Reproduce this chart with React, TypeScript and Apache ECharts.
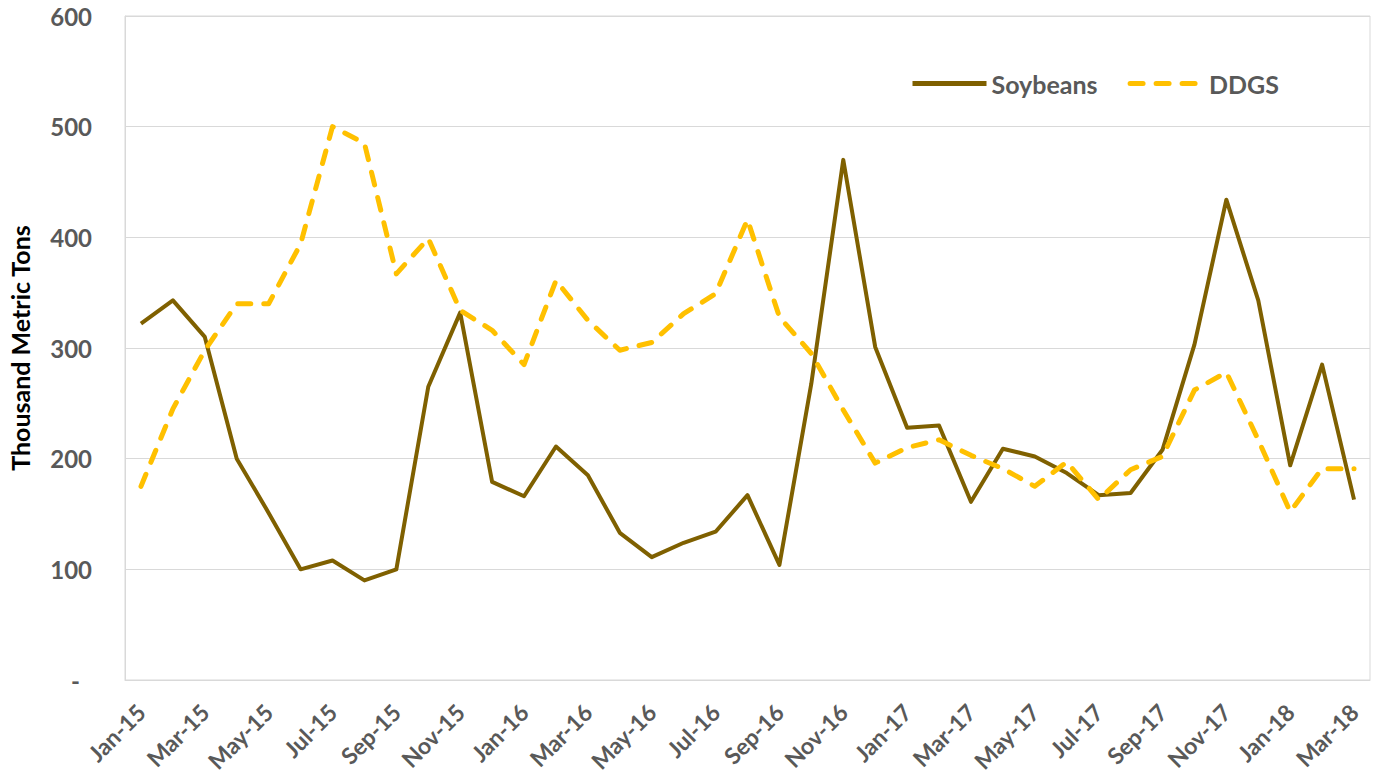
import React, { useEffect, useRef } from "react";
import * as echarts from "echarts";

const months = [
  "Jan-15","Feb-15","Mar-15","Apr-15","May-15","Jun-15","Jul-15","Aug-15","Sep-15","Oct-15","Nov-15","Dec-15",
  "Jan-16","Feb-16","Mar-16","Apr-16","May-16","Jun-16","Jul-16","Aug-16","Sep-16","Oct-16","Nov-16","Dec-16",
  "Jan-17","Feb-17","Mar-17","Apr-17","May-17","Jun-17","Jul-17","Aug-17","Sep-17","Oct-17","Nov-17","Dec-17",
  "Jan-18","Feb-18","Mar-18",
];

const soybeans = [
  322, 343, 310, 200, 151, 100, 108, 90, 100, 265, 332, 179,
  166, 211, 185, 133, 111, 124, 134, 167, 104, 268, 470, 301,
  228, 230, 161, 209, 202, 187, 167, 169, 208, 303, 434, 343,
  194, 285, 163,
];

const ddgs = [
  175, 245, 298, 340, 340, 394, 500, 485, 367, 399, 334, 316,
  285, 361, 325, 298, 305, 331, 349, 416, 328, 295, 244, 196,
  210, 217, 203, 191, 175, 197, 163, 190, 202, 262, 278, 217,
  152, 191, 191,
];

const seriesNames = ["Soybeans", "DDGS"];
const yAxisTitle = "Thousand Metric Tons";

export default function App() {
  const ref = useRef<HTMLDivElement>(null);
  useEffect(() => {
    if (!ref.current) return;
    const chart = echarts.init(ref.current, null, { renderer: "svg" });
    const font = "Lato, 'Open Sans', sans-serif";
    chart.setOption({
      animation: false,
      backgroundColor: "#ffffff",
      grid: {
        left: 125,
        right: 7,
        top: 16,
        bottom: 100,
        containLabel: false,
        outerBoundsMode: "none",
        show: true,
        borderColor: "#d9d9d9",
        borderWidth: 1,
      },
      legend: {
        left: 905,
        top: 66,
        itemWidth: 74,
        itemHeight: 14,
        itemGap: 30,
        itemStyle: { opacity: 0 },
        lineStyle: { width: 5 },
        textStyle: { fontSize: 25, color: "#595959", fontFamily: font, fontWeight: "bold" },
        data: seriesNames,
      },
      xAxis: {
        type: "category",
        data: months,
        boundaryGap: true,
        axisLine: { show: true, lineStyle: { color: "#d9d9d9" } },
        axisTick: { show: false },
        axisLabel: {
          interval: 1,
          rotate: 45,
          fontSize: 23,
          color: "#595959",
          fontFamily: font,
          fontWeight: "bold",
          margin: 28,
        },
        splitLine: { show: false },
      },
      yAxis: {
        type: "value",
        min: 0,
        max: 600,
        interval: 100,
        name: yAxisTitle,
        nameLocation: "middle",
        nameGap: 93,
        nameTextStyle: { fontSize: 25, fontWeight: "bold", color: "#000000", fontFamily: font },
        axisLine: { show: true, lineStyle: { color: "#d9d9d9" } },
        axisTick: { show: false },
        axisLabel: {
          fontSize: 24,
          color: "#595959",
          fontFamily: font,
          fontWeight: "bold",
          margin: 33,
          formatter: (v: number) => (v === 0 ? "{z|-}" : String(v)),
          rich: {
            z: {
              fontSize: 24,
              color: "#595959",
              fontFamily: font,
              fontWeight: "bold",
              padding: [0, 12, 0, 0],
            },
          },
        },
        splitLine: { show: true, lineStyle: { color: "#d9d9d9", width: 1 } },
      },
      series: [
        {
          name: seriesNames[0],
          type: "line",
          data: soybeans,
          symbol: "none",
          color: "#7F6000",
          lineStyle: { color: "#7F6000", width: 4, join: "round" },
        },
        {
          name: seriesNames[1],
          type: "line",
          data: ddgs,
          symbol: "none",
          color: "#FFC000",
          lineStyle: { color: "#FFC000", width: 5, type: [13, 13], cap: "round", join: "round" },
        },
      ],
    });
    return () => chart.dispose();
  }, []);
  return (
    <div
      ref={ref}
      style={{ position: "absolute", left: 0, top: 0, width: 1377, height: 780 }}
    />
  );
}
